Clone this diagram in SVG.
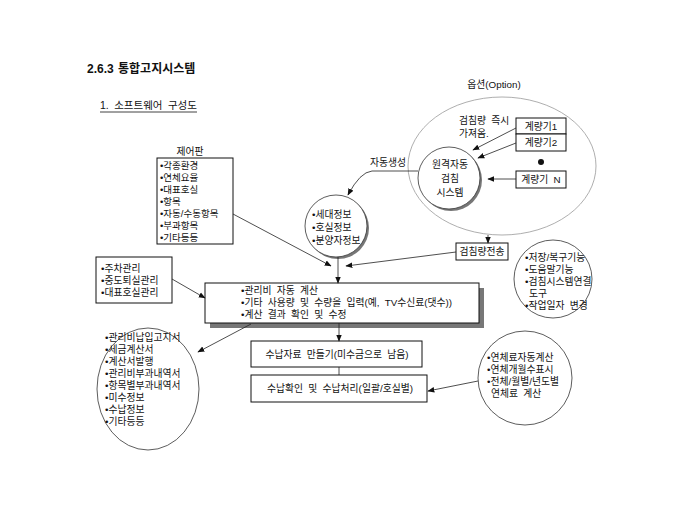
<svg xmlns="http://www.w3.org/2000/svg" width="680" height="510" viewBox="0 0 680 510">
<style>
text{font-family:"Liberation Sans","Noto Sans CJK KR",sans-serif;font-size:9.8px;fill:#111;word-spacing:2.5px}
.t{font-size:12px;font-weight:bold;word-spacing:1px}
.s{font-size:10.5px}
.d{font-size:9.5px}
.b{fill:#fff;stroke:#111;stroke-width:1}
.c{fill:#fff;stroke:#333;stroke-width:0.8}
.l{fill:none;stroke:#222;stroke-width:0.8}
.sh{fill:#777;stroke:none}
.m{text-anchor:middle}
</style>
<defs>
<marker id="a" viewBox="0 0 10 10" refX="9" refY="5" markerWidth="7" markerHeight="7" orient="auto" markerUnits="userSpaceOnUse">
<path d="M0,1 L10,5 L0,9 z" fill="#111"/>
</marker>
</defs>
<rect width="680" height="510" fill="#fff"/>
<text class="t" x="87" y="73">2.6.3 통합고지시스템</text>
<text class="s" x="100" y="109">1. 소프트웨어 구성도</text>
<line x1="100" y1="112" x2="197" y2="112" stroke="#111" stroke-width="0.8"/>

<g id="option">
<text class="m" x="494" y="88">옵션(Option)</text>
<ellipse cx="502" cy="166" rx="94" ry="69" fill="none" stroke="#999" stroke-width="0.8"/>
<text x="459" y="124">검침량 즉시</text>
<text x="459" y="137">가져옴.</text>
</g>
<g id="meter1"><rect class="b" x="516" y="118" width="50" height="16"/><text class="m" x="541" y="130">계량기1</text></g>
<g id="meter2"><rect class="b" x="516" y="134" width="50" height="17"/><text class="m" x="541" y="146">계량기2</text></g>
<g id="dot"><circle cx="541" cy="162" r="3" fill="#111"/></g>
<g id="meterN"><rect class="b" x="516" y="171" width="50" height="17"/><text class="m" x="541" y="183">계량기 N</text></g>
<g id="remote">
<circle cx="451" cy="180" r="31" class="sh"/>
<circle cx="449" cy="178" r="31" class="c"/>
<text class="m" x="450" y="168">원격자동</text>
<text class="m" x="450" y="182">검침</text>
<text class="m" x="450" y="196">시스템</text>
</g>
<g id="info">
<circle cx="338" cy="228" r="31" class="sh"/>
<circle cx="336" cy="226" r="31" class="c"/>
<text x="312" y="218">•세대정보</text>
<text x="312" y="231">•호실정보</text>
<text x="312" y="244">•분양자정보</text>
</g>
<g id="control">
<text class="m" x="190" y="155">제어판</text>
<rect class="b" x="157" y="158" width="76" height="86"/>
<text class="d" x="160" y="169">•각종환경</text>
<text class="d" x="160" y="181">•연체요율</text>
<text class="d" x="160" y="193">•대표호실</text>
<text class="d" x="160" y="205">•항목</text>
<text class="d" x="160" y="217">•자동/수동항목</text>
<text class="d" x="160" y="229">•부과항목</text>
<text class="d" x="160" y="241">•기타등등</text>
</g>
<g id="transfer"><rect class="b" x="456" y="243" width="52" height="17"/><text class="m" x="482" y="255">검침량전송</text></g>
<g id="tools">
<circle cx="553" cy="279" r="39" class="c"/>
<text x="525" y="261">•저장/복구기능</text>
<text x="525" y="273">•도움말기능</text>
<text x="525" y="285">•검침시스템연결</text>
<text x="529" y="297">도구</text>
<text x="525" y="309">•작업일자 변경</text>
</g>
<g id="parking">
<rect class="b" x="96" y="257" width="76" height="46"/>
<text x="101" y="272">•주차관리</text>
<text x="101" y="284">•중도퇴실관리</text>
<text x="101" y="296">•대표호실관리</text>
</g>
<g id="main">
<rect class="sh" x="210" y="288" width="274" height="40"/>
<rect class="b" x="205" y="283" width="274" height="40"/>
<text x="241" y="293.5">•관리비 자동 계산</text>
<text x="241" y="305.5">•기타 사용량 및 수량을 입력(예, TV수신료(댓수))</text>
<text x="241" y="317.5">•계산 결과 확인 및 수정</text>
</g>
<g id="reports">
<ellipse cx="148" cy="389" rx="51" ry="61" class="c"/>
<text x="105" y="341">•관리비납입고지서</text>
<text x="105" y="353">•세금계산서</text>
<text x="105" y="365">•계산서발행</text>
<text x="105" y="377">•관리비부과내역서</text>
<text x="105" y="389">•항목별부과내역서</text>
<text x="105" y="401">•미수정보</text>
<text x="105" y="413">•수납정보</text>
<text x="105" y="425">•기타등등</text>
</g>
<g id="make"><rect class="b" x="251" y="341" width="171" height="26"/><text class="m" x="337" y="358">수납자료 만들기(미수금으로 남음)</text></g>
<g id="confirm"><rect class="b" x="251" y="375" width="176" height="27"/><text class="m" x="340" y="392">수납확인 및 수납처리(일괄/호실별)</text></g>
<g id="overdue">
<circle cx="525" cy="378" r="47" class="c"/>
<text x="487" y="361">•연체료자동계산</text>
<text x="487" y="373">•연체개월수표시</text>
<text x="487" y="385">•전체/월별/년도별</text>
<text x="491" y="397">연체료 계산</text>
</g>
<g id="connectors" class="l">
<line x1="516" y1="128" x2="473" y2="150" marker-end="url(#a)"/>
<line x1="516" y1="143" x2="478" y2="158" marker-end="url(#a)"/>
<line x1="516" y1="179" x2="488" y2="179" marker-end="url(#a)"/>
<path d="M418,171 L372,171 Q360,172 348,195" marker-end="url(#a)"/>
<text x="370" y="166" style="stroke:none">자동생성</text>
<line x1="488" y1="235" x2="488" y2="243" marker-end="url(#a)"/>
<line x1="338" y1="257" x2="338" y2="283" marker-end="url(#a)"/>
<line x1="233" y1="214" x2="331" y2="266" marker-end="url(#a)"/>
<line x1="456" y1="252" x2="346" y2="266" marker-end="url(#a)"/>
<line x1="172" y1="279" x2="205" y2="298" marker-end="url(#a)"/>
<line x1="251" y1="324" x2="198" y2="352" marker-end="url(#a)"/>
<line x1="339" y1="323" x2="339" y2="341" marker-end="url(#a)"/>
<line x1="339" y1="367" x2="339" y2="375"/>
<line x1="478" y1="381" x2="428" y2="391" marker-end="url(#a)"/>
</g>
</svg>
